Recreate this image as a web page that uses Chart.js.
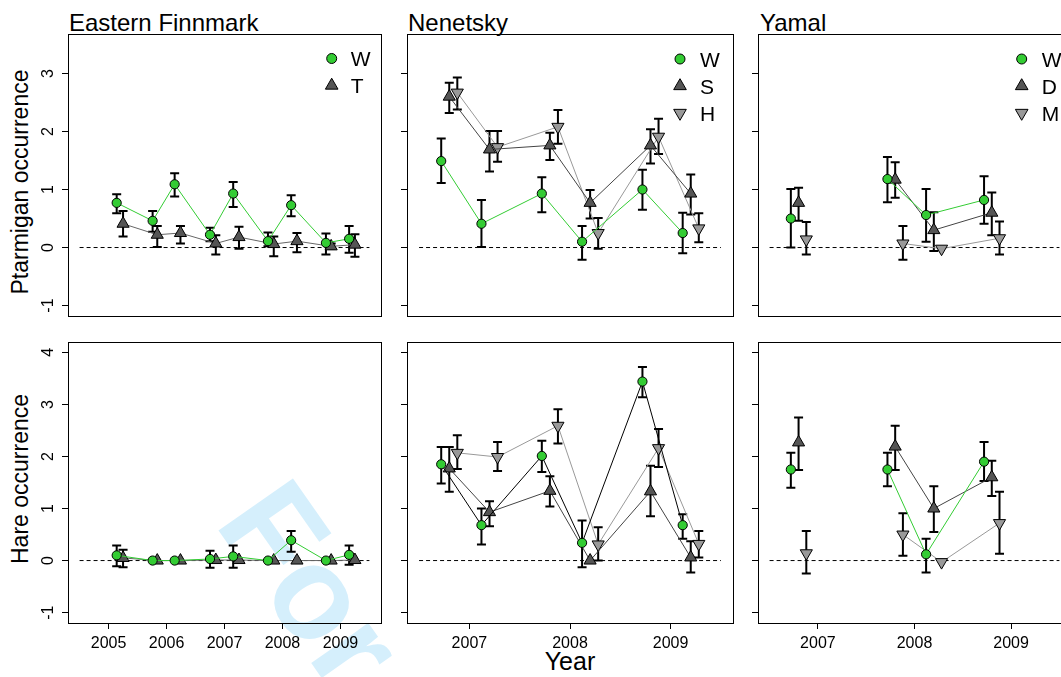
<!DOCTYPE html>
<html><head><meta charset="utf-8">
<script src="https://cdn.jsdelivr.net/npm/chart.js@4.4.0/dist/chart.umd.min.js"></script>
<style>
html,body{margin:0;padding:0;background:#fff;overflow:hidden;width:1061px;height:677px;position:relative;}
canvas{position:absolute;}
.t{position:absolute;font-family:"Liberation Sans",Arial,Helvetica,sans-serif;color:#000;white-space:nowrap;line-height:1;}
#wm{position:absolute;left:213px;top:412px;font-family:"Liberation Sans",Arial,sans-serif;font-weight:bold;font-size:132px;line-height:1;color:#d5effc;transform-origin:0 111.7px;transform:rotate(55deg);white-space:nowrap;}
</style></head><body>
<div id="wm">For</div>
<div class="t" style="left:69px;top:11px;font-size:24px;">Eastern Finnmark</div>
<div class="t" style="left:408px;top:11px;font-size:24px;">Nenetsky</div>
<div class="t" style="left:760px;top:11px;font-size:24px;">Yamal</div>
<div class="t" style="left:20px;top:182px;font-size:23px;transform:translate(-50%,-50%) rotate(-90deg);">Ptarmigan occurrence</div>
<div class="t" style="left:20px;top:479px;font-size:23px;transform:translate(-50%,-50%) rotate(-90deg);">Hare occurrence</div>
<div class="t" style="left:570px;top:649px;font-size:25px;transform:translateX(-50%);">Year</div>
<canvas id="c1" width="348" height="292" style="left:38px;top:29px"></canvas>
<canvas id="c2" width="361" height="292" style="left:377px;top:29px"></canvas>
<canvas id="c3" width="348" height="292" style="left:728px;top:29px"></canvas>
<canvas id="c4" width="348" height="326" style="left:38px;top:337px"></canvas>
<canvas id="c5" width="361" height="326" style="left:377px;top:337px"></canvas>
<canvas id="c6" width="348" height="326" style="left:728px;top:337px"></canvas>
<script>
// ---------------- DATA ----------------
const yearsEF = [2005, 2006, 2007, 2008, 2009];
const yearsNY = [2007, 2008, 2009];
const ptTicks = [-1, 0, 1, 2, 3];
const hareTicks = [-1, 0, 1, 2, 3, 4];
const zeroEF = [2004.5, 2009.5];
const zeroNY = [2006.5, 2009.5];

// Eastern Finnmark
const efX_W = [2005.14, 2005.76, 2006.14, 2006.75, 2007.15, 2007.75, 2008.15, 2008.75, 2009.15];
const efX_T = [2005.25, 2005.84, 2006.24, 2006.85, 2007.25, 2007.85, 2008.25, 2008.84, 2009.25];
const efPt_W    = [0.77, 0.46, 1.09, 0.22, 0.93, 0.11, 0.73, 0.08, 0.15];
const efPt_W_lo = [0.59, 0.27, 0.88, 0.11, 0.70, 0.02, 0.54, -0.12, -0.09];
const efPt_W_hi = [0.92, 0.63, 1.28, 0.34, 1.13, 0.26, 0.90, 0.24, 0.37];
const efPt_T    = [0.41, 0.22, 0.25, 0.07, 0.18, 0.06, 0.11, 0.02, 0.05];
const efPt_T_lo = [0.19, 0.01, 0.07, -0.12, -0.02, -0.15, -0.08, -0.02, -0.16];
const efPt_T_hi = [0.63, 0.37, 0.37, 0.21, 0.36, 0.19, 0.25, 0.07, 0.23];
const efHa_W    = [0.10, 0.00, 0.00, 0.03, 0.08, 0.00, 0.39, 0.00, 0.11];
const efHa_W_lo = [-0.11, 0.00, 0.00, -0.14, -0.14, 0.00, 0.17, 0.00, -0.08];
const efHa_W_hi = [0.29, 0.00, 0.00, 0.19, 0.29, 0.00, 0.57, 0.00, 0.29];
const efHa_T    = [0.05, 0.00, 0.00, 0.01, 0.01, 0.00, 0.00, 0.00, 0.01];
const efHa_T_lo = [-0.13, 0.00, 0.00, 0.01, 0.01, 0.00, 0.00, 0.00, 0.01];
const efHa_T_hi = [0.21, 0.00, 0.00, 0.01, 0.01, 0.00, 0.00, 0.00, 0.01];

// Nenetsky
const nX_W = [2006.72, 2007.12, 2007.72, 2008.12, 2008.72, 2009.12];
const nX_S = [2006.80, 2007.20, 2007.80, 2008.20, 2008.80, 2009.20];
const nX_H = [2006.88, 2007.28, 2007.88, 2008.28, 2008.88, 2009.28];
const nPt_W    = [1.49, 0.41, 0.93, 0.10, 1.00, 0.25];
const nPt_W_lo = [1.11, 0.01, 0.61, -0.21, 0.65, -0.10];
const nPt_W_hi = [1.88, 0.82, 1.21, 0.37, 1.34, 0.60];
const nPt_S    = [2.60, 1.69, 1.76, 0.77, 1.76, 0.93];
const nPt_S_lo = [2.32, 1.31, 1.51, 0.50, 1.45, 0.57];
const nPt_S_hi = [2.84, 2.01, 1.98, 0.99, 2.04, 1.26];
const nPt_H    = [2.67, 1.73, 2.08, 0.25, 1.91, 0.33];
const nPt_H_lo = [2.38, 1.48, 1.79, -0.02, 1.61, 0.09];
const nPt_H_hi = [2.93, 2.01, 2.37, 0.51, 2.22, 0.59];
const nHa_W    = [1.85, 0.68, 2.01, 0.34, 3.44, 0.68];
const nHa_W_lo = [1.48, 0.31, 1.70, -0.13, 3.14, 0.42];
const nHa_W_hi = [2.18, 1.00, 2.30, 0.77, 3.72, 0.89];
const nHa_S    = [1.77, 0.93, 1.34, 0.00, 1.33, 0.06];
const nHa_S_lo = [1.32, 0.66, 1.04, 0.00, 0.85, -0.23];
const nHa_S_hi = [2.18, 1.14, 1.62, 0.00, 1.82, 0.37];
const nHa_H    = [2.07, 1.99, 2.59, 0.31, 2.16, 0.32];
const nHa_H_lo = [1.76, 1.72, 2.25, 0.00, 1.80, 0.06];
const nHa_H_hi = [2.41, 2.28, 2.91, 0.64, 2.53, 0.57];

// Yamal (null = no survey, line broken)
const yX_W = [2006.72, 2007.12, 2007.72, 2008.12, 2008.72];
const yX_D = [2006.80, 2007.20, 2007.80, 2008.20, 2008.80];
const yX_M = [2006.88, 2007.28, 2007.88, 2008.28, 2008.88];
const yPt_W    = [0.50, null, 1.18, 0.56, 0.82];
const yPt_W_lo = [0.00, null, 0.78, 0.10, 0.41];
const yPt_W_hi = [1.01, null, 1.56, 1.01, 1.23];
const yPt_D    = [0.77, null, 1.17, 0.30, 0.60];
const yPt_D_lo = [0.46, null, 0.86, -0.06, 0.21];
const yPt_D_hi = [1.03, null, 1.47, 0.61, 0.95];
const yPt_M    = [0.14, null, 0.07, -0.02, 0.16];
const yPt_M_lo = [-0.12, null, -0.21, -0.02, -0.12];
const yPt_M_hi = [0.44, null, 0.37, -0.02, 0.45];
const yHa_W    = [1.75, null, 1.75, 0.12, 1.90];
const yHa_W_lo = [1.40, null, 1.43, -0.23, 1.53];
const yHa_W_hi = [2.07, null, 2.07, 0.42, 2.28];
const yHa_D    = [2.27, null, 2.19, 1.00, 1.60];
const yHa_D_lo = [1.74, null, 1.74, 0.55, 1.24];
const yHa_D_hi = [2.75, null, 2.59, 1.43, 1.92];
const yHa_M    = [0.14, null, 0.50, -0.03, 0.72];
const yHa_M_lo = [-0.25, null, 0.09, -0.03, 0.13];
const yHa_M_hi = [0.57, null, 0.91, -0.03, 1.32];

// ---------------- STYLES / HELPERS ----------------
const FONT = '"Liberation Sans", Arial, Helvetica, sans-serif';
Chart.defaults.font.family = FONT;
Chart.defaults.color = '#000';
const GREEN = '#33cc33', DARK = '#555555', LIGHT = '#999999';
const KIND = {
  circle: {pointStyle: 'circle', pointRadius: 4.6, pointRotation: 0, fill: GREEN},
  up:     {pointStyle: 'triangle', pointRadius: 7, pointRotation: 0, fill: DARK},
  down:   {pointStyle: 'triangle', pointRadius: 7, pointRotation: 180, fill: LIGHT}
};
function series(label, kind, xs, ys, lo, hi, lineColor, order) {
  const k = KIND[kind];
  return {
    label, kind, legend: true,
    data: xs.map((x, i) => ({x, y: ys[i]})),
    errLo: lo, errHi: hi,
    borderColor: lineColor, borderWidth: 1, spanGaps: false, tension: 0,
    pointStyle: k.pointStyle, pointRadius: k.pointRadius, pointRotation: k.pointRotation,
    pointBackgroundColor: k.fill, pointBorderColor: '#000', pointBorderWidth: 1,
    pointHoverRadius: k.pointRadius, order: order
  };
}
function zeroLine(xr) {
  return {data: xr.map(x => ({x, y: 0})), borderColor: '#000', borderWidth: 1,
    borderDash: [4, 3], pointRadius: 0, order: 99, legend: false};
}

const errorBars = {
  id: 'errorBars',
  beforeDatasetsDraw(chart) {
    const {ctx} = chart; const x = chart.scales.x, y = chart.scales.y;
    ctx.save();
    ctx.beginPath(); ctx.rect(chart.chartArea.left, chart.chartArea.top, chart.chartArea.width, chart.chartArea.height); ctx.clip();
    ctx.strokeStyle = '#000'; ctx.lineWidth = 2;
    chart.data.datasets.forEach(ds => {
      if (!ds.errLo) return;
      ds.data.forEach((p, i) => {
        const lo = ds.errLo[i], hi = ds.errHi[i];
        if (p.y == null || lo == null || hi - lo < 0.03) return;
        const px = x.getPixelForValue(p.x), y1 = y.getPixelForValue(lo), y2 = y.getPixelForValue(hi);
        ctx.beginPath();
        ctx.moveTo(px, y1); ctx.lineTo(px, y2);
        ctx.moveTo(px - 4.5, y1); ctx.lineTo(px + 4.5, y1);
        ctx.moveTo(px - 4.5, y2); ctx.lineTo(px + 4.5, y2);
        ctx.stroke();
      });
    });
    ctx.restore();
  }
};
const frame = {
  id: 'frame',
  afterDatasetsDraw(chart) {
    const {ctx, chartArea: a} = chart;
    ctx.save(); ctx.strokeStyle = '#000'; ctx.lineWidth = 1;
    ctx.strokeRect(Math.round(a.left) + 0.5, Math.round(a.top) + 0.5, Math.round(a.width), Math.round(a.height));
    ctx.restore();
  }
};
const yLabels = {
  id: 'yLabels',
  afterDraw(chart, args, opts) {
    if (!opts.show) return;
    const {ctx} = chart; const y = chart.scales.y;
    ctx.save(); ctx.fillStyle = '#000'; ctx.font = '16px ' + FONT;
    ctx.textAlign = 'center'; ctx.textBaseline = 'middle';
    y.ticks.forEach(t => {
      ctx.save();
      ctx.translate(chart.chartArea.left - 19, y.getPixelForValue(t.value));
      ctx.rotate(-Math.PI / 2);
      ctx.fillText(String(t.value), 0, 0);
      ctx.restore();
    });
    ctx.restore();
  }
};
function marker(ctx, kind, x, y) {
  const k = KIND[kind];
  ctx.fillStyle = k.fill; ctx.strokeStyle = '#000'; ctx.lineWidth = 1;
  ctx.beginPath();
  if (kind === 'circle') {
    ctx.arc(x, y, 5, 0, Math.PI * 2);
  } else {
    const r = 7.3; let rad = kind === 'down' ? Math.PI : 0;
    for (let i = 0; i < 3; i++) {
      const px = x + Math.sin(rad) * r, py = y - Math.cos(rad) * r;
      if (i === 0) ctx.moveTo(px, py); else ctx.lineTo(px, py);
      rad += 2 * Math.PI / 3;
    }
    ctx.closePath();
  }
  ctx.fill(); ctx.stroke();
}
const rLegend = {
  id: 'rLegend',
  afterDraw(chart, args, opts) {
    if (!opts.show) return;
    const {ctx, chartArea: a} = chart;
    ctx.save();
    let yy = a.top + opts.y0;
    chart.data.datasets.filter(d => d.legend).forEach(d => {
      marker(ctx, d.kind, a.right - opts.mx, yy);
      ctx.fillStyle = '#000'; ctx.font = '21px ' + FONT;
      ctx.textAlign = 'left'; ctx.textBaseline = 'middle';
      ctx.fillText(d.label, a.right - opts.tx, yy + 2);
      yy += 27;
    });
    ctx.restore();
  }
};

function makeChart(id, datasets, o) {
  const xTicks = o.years;
  new Chart(document.getElementById(id), {
    type: 'line',
    data: {datasets},
    plugins: [errorBars, frame, yLabels, rLegend],
    options: {
      responsive: false, animation: false, events: [],
      layout: {autoPadding: false, padding: {left: 0, right: 5, top: 5, bottom: o.bottom ? 0 : 5}},
      scales: {
        x: {
          type: 'linear', min: o.xmin, max: o.xmax, display: !!o.bottom,
          afterBuildTicks: s => { s.ticks = xTicks.map(v => ({value: v})); },
          afterFit: s => { s.height = o.bottom ? 40 : 0; },
          grid: {drawOnChartArea: false, drawTicks: true, tickLength: 6, color: '#000', lineWidth: 1},
          border: {display: false},
          ticks: {font: {size: 16, family: FONT}, color: '#000', padding: 5, maxRotation: 0, autoSkip: false,
                  callback: v => String(v)}
        },
        y: {
          type: 'linear', min: o.ymin, max: o.ymax,
          afterBuildTicks: s => { s.ticks = o.yticks.map(v => ({value: v})); },
          afterFit: s => { s.width = 30; },
          grid: {drawOnChartArea: false, drawTicks: true, tickLength: 6, color: '#000', lineWidth: 1},
          border: {display: false},
          ticks: {display: false}
        }
      },
      plugins: {
        legend: {display: false}, tooltip: {enabled: false},
        yLabels: {show: !!o.yLabels},
        rLegend: o.legend ? Object.assign({show: true}, o.legend) : {show: false}
      }
    }
  });
}

const PT = {ymin: -1.18, ymax: 3.68, yticks: ptTicks};
const HA = {ymin: -1.2, ymax: 4.2, yticks: hareTicks};
const EFX = {xmin: 2004.3, xmax: 2009.7, years: yearsEF};
const NYX = {xmin: 2006.38, xmax: 2009.62, years: yearsNY};

makeChart('c1', [
  series('W', 'circle', efX_W, efPt_W, efPt_W_lo, efPt_W_hi, GREEN, 1),
  series('T', 'up', efX_T, efPt_T, efPt_T_lo, efPt_T_hi, '#666666', 2),
  zeroLine(zeroEF)
], Object.assign({yLabels: true, legend: {mx: 49.3, tx: 30.3, y0: 24.5}}, PT, EFX));

makeChart('c2', [
  series('W', 'circle', nX_W, nPt_W, nPt_W_lo, nPt_W_hi, GREEN, 1),
  series('S', 'up', nX_S, nPt_S, nPt_S_lo, nPt_S_hi, '#444444', 2),
  series('H', 'down', nX_H, nPt_H, nPt_H_lo, nPt_H_hi, LIGHT, 3),
  zeroLine(zeroNY)
], Object.assign({legend: {mx: 53, tx: 33, y0: 25}}, PT, NYX));

makeChart('c3', [
  series('W', 'circle', yX_W, yPt_W, yPt_W_lo, yPt_W_hi, GREEN, 1),
  series('D', 'up', yX_D, yPt_D, yPt_D_lo, yPt_D_hi, '#444444', 2),
  series('M', 'down', yX_M, yPt_M, yPt_M_lo, yPt_M_hi, LIGHT, 3),
  zeroLine(zeroNY)
], Object.assign({legend: {mx: 49.3, tx: 29.3, y0: 25}}, PT, NYX));

makeChart('c4', [
  series('W', 'circle', efX_W, efHa_W, efHa_W_lo, efHa_W_hi, GREEN, 1),
  series('T', 'up', efX_T, efHa_T, efHa_T_lo, efHa_T_hi, '#666666', 2),
  zeroLine(zeroEF)
], Object.assign({yLabels: true, bottom: true}, HA, EFX));

makeChart('c5', [
  series('W', 'circle', nX_W, nHa_W, nHa_W_lo, nHa_W_hi, '#000000', 1),
  series('S', 'up', nX_S, nHa_S, nHa_S_lo, nHa_S_hi, '#444444', 2),
  series('H', 'down', nX_H, nHa_H, nHa_H_lo, nHa_H_hi, LIGHT, 3),
  zeroLine(zeroNY)
], Object.assign({bottom: true}, HA, NYX));

makeChart('c6', [
  series('W', 'circle', yX_W, yHa_W, yHa_W_lo, yHa_W_hi, GREEN, 1),
  series('D', 'up', yX_D, yHa_D, yHa_D_lo, yHa_D_hi, '#444444', 2),
  series('M', 'down', yX_M, yHa_M, yHa_M_lo, yHa_M_hi, LIGHT, 3),
  zeroLine(zeroNY)
], Object.assign({bottom: true}, HA, NYX));
</script>
</body></html>
